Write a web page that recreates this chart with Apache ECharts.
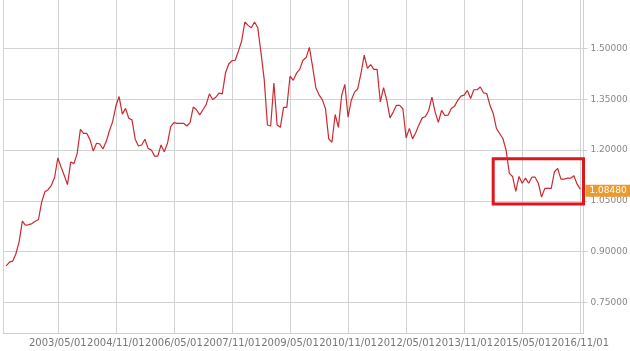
<!DOCTYPE html>
<html><head><meta charset="utf-8">
<script src="https://cdn.jsdelivr.net/npm/echarts@6/dist/echarts.min.js"></script>
<style>html,body{margin:0;padding:0;background:#fff}#c{width:630px;height:351px}</style>
</head><body><div id="c"></div>
<script>
// Monthly categories from 2001/12/01 to 2016/12/01
const firstMonth = [2001, 12];
const monthCount = 181;
const categories = [];
for (let k = 0; k < monthCount; k++) {
  const m0 = firstMonth[1] - 1 + k;
  const y = firstMonth[0] + Math.floor(m0 / 12);
  const m = (m0 % 12) + 1;
  categories.push(y + '/' + String(m).padStart(2, '0') + '/01');
}

const xLabelDates = ['2003/05/01','2004/11/01','2006/05/01','2007/11/01','2009/05/01',
  '2010/11/01','2012/05/01','2013/11/01','2015/05/01','2016/11/01'];
const yTickValues = [0.75, 0.90, 1.05, 1.20, 1.35, 1.50, 1.65];

const rate = [null,
  0.858,0.869,0.872,0.894,0.929,0.990,0.978,0.980,0.983,0.990,
  0.995,1.047,1.077,1.083,1.096,1.119,1.177,1.150,1.125,1.098,
  1.165,1.160,1.190,1.261,1.249,1.249,1.230,1.197,1.220,1.218,
  1.203,1.225,1.257,1.284,1.330,1.358,1.306,1.323,1.294,1.289,
  1.232,1.212,1.215,1.232,1.205,1.200,1.182,1.182,1.215,1.195,
  1.220,1.269,1.281,1.279,1.279,1.279,1.271,1.281,1.327,1.319,
  1.304,1.319,1.334,1.366,1.349,1.356,1.368,1.366,1.428,1.454,
  1.464,1.465,1.492,1.522,1.578,1.568,1.561,1.578,1.561,1.487,
  1.408,1.274,1.271,1.398,1.274,1.267,1.326,1.326,1.418,1.406,
  1.427,1.438,1.465,1.473,1.503,1.446,1.384,1.363,1.349,1.322,
  1.233,1.223,1.305,1.267,1.361,1.394,1.297,1.347,1.371,1.381,
  1.426,1.480,1.441,1.452,1.438,1.438,1.342,1.384,1.347,1.295,
  1.312,1.332,1.332,1.322,1.236,1.264,1.233,1.252,1.275,1.295,
  1.299,1.317,1.356,1.312,1.282,1.317,1.302,1.303,1.323,1.329,
  1.347,1.359,1.362,1.376,1.352,1.378,1.378,1.386,1.369,1.367,
  1.332,1.308,1.264,1.249,1.234,1.200,1.131,1.122,1.078,1.122,
  1.102,1.117,1.102,1.120,1.120,1.102,1.061,1.087,1.087,1.087,
  1.136,1.146,1.114,1.114,1.117,1.117,1.124,1.100,1.0848
];
const lastValue = 1.0848;
const highlightBox = { from: '2014/08/01', to: '2016/12/01', low: 1.041, high: 1.174 };

const chart = echarts.init(document.getElementById('c'), null, { renderer: 'canvas' });
chart.setOption({
  animation: false,
  backgroundColor: '#fff',
  grid: { left: 3, right: 46.5, top: -2.4, bottom: 18, outerBoundsMode: 'none', containLabel: false },
  xAxis: {
    type: 'category',
    data: categories,
    boundaryGap: false,
    axisLine: { show: true, lineStyle: { color: '#cfcfcf', width: 1 } },
    axisTick: { show: false },
    axisLabel: {
      interval: (idx, val) => xLabelDates.includes(val),
      color: '#777', fontSize: 10, fontFamily: 'DejaVu Sans', margin: 5
    },
    splitLine: {
      show: true,
      interval: (idx, val) => idx === 0 || xLabelDates.includes(val),
      lineStyle: { color: '#d3d3d3', width: 1 }
    }
  },
  yAxis: {
    type: 'value',
    position: 'right',
    min: 0.66, max: 1.65,
    axisLine: { show: true, lineStyle: { color: '#cfcfcf', width: 1 } },
    axisTick: { show: true, length: 4, customValues: yTickValues, lineStyle: { color: '#cfcfcf' } },
    axisLabel: {
      customValues: yTickValues,
      showMaxLabel: true,
      formatter: v => v.toFixed(5),
      color: '#888', fontSize: 9, fontFamily: 'DejaVu Sans', margin: 7
    },
    splitLine: { show: true, lineStyle: { color: '#d3d3d3', width: 1 } }
  },
  series: [{
    type: 'line',
    data: rate,
    symbol: 'none',
    clip: false,
    lineStyle: { color: '#cc2a30', width: 1.2 },
    markArea: {
      silent: true,
      itemStyle: { color: 'rgba(0,0,0,0)', borderColor: '#e0161e', borderWidth: 3 },
      data: [[
        { xAxis: highlightBox.from, yAxis: highlightBox.high },
        { xAxis: highlightBox.to, yAxis: highlightBox.low }
      ]]
    },
    markLine: {
      silent: true,
      symbol: 'none',
      lineStyle: { color: 'rgba(0,0,0,0)', width: 0, type: 'solid' },
      label: {
        show: true, position: 'end', distance: 2,
        formatter: () => lastValue.toFixed(5),
        backgroundColor: '#ec9a2e', color: '#fff', opacity: 1,
        fontSize: 9, fontFamily: 'DejaVu Sans', padding: [2, 4, 1, 4]
      },
      data: [{ yAxis: lastValue }]
    }
  }]
});
</script></body></html>
